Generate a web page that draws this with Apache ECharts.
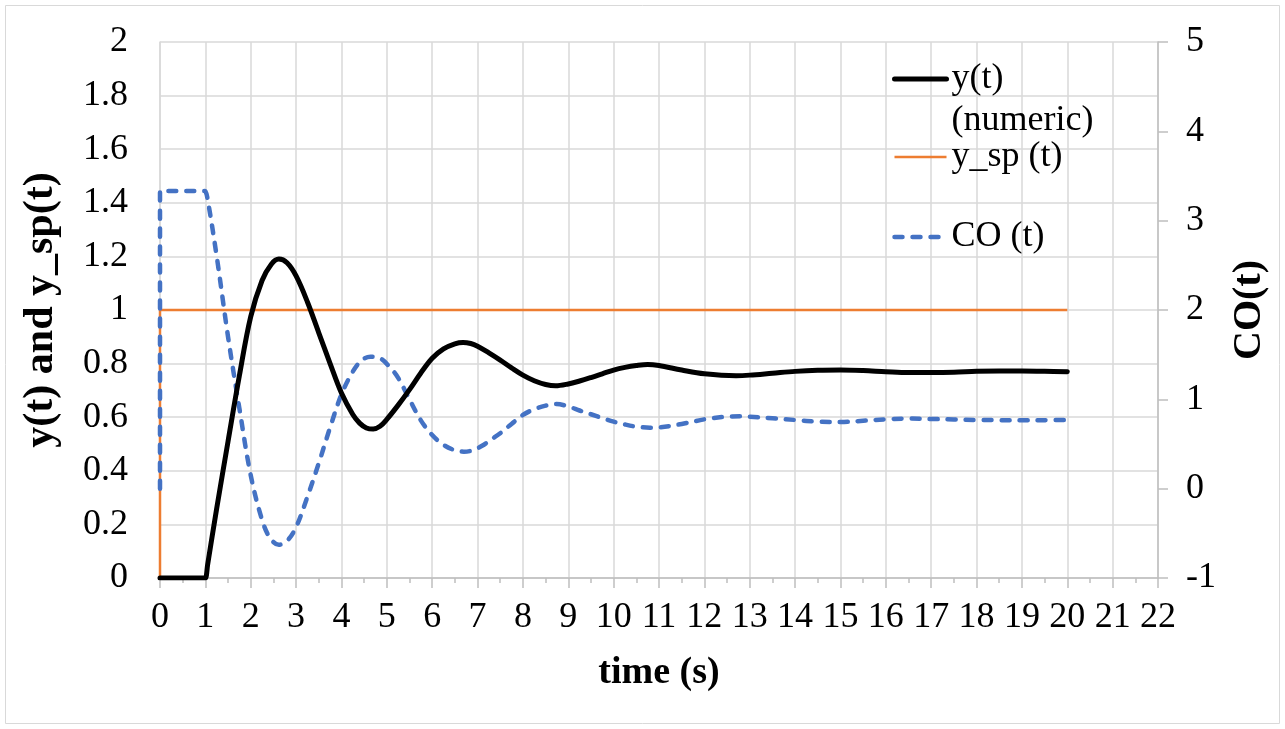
<!DOCTYPE html>
<html>
<head>
<meta charset="utf-8">
<script src="https://cdn.jsdelivr.net/npm/echarts@6/dist/echarts.min.js"></script>
<style>
html,body{margin:0;padding:0;background:#fff;}
#c{width:1285px;height:729px;}
</style>
</head>
<body>
<div id="c"></div>
<script>
// ---- data ----
const yTimes = [0, 0.5, 0.95, 1.0, 1.05, 1.25, 1.5, 1.75, 2.0, 2.25, 2.45, 2.62, 2.8, 3.0, 3.25, 3.5, 3.75, 4.0, 4.25, 4.4, 4.55, 4.7, 4.85, 5.0, 5.25, 5.5, 5.75, 6.0, 6.25, 6.5, 6.68, 6.85, 7.0, 7.25, 7.5, 7.75, 8.0, 8.25, 8.5, 8.72, 9.0, 9.25, 9.5, 9.75, 10.0, 10.25, 10.5, 10.75, 11.0, 11.5, 12.0, 12.7, 13.0, 13.5, 14.0, 14.5, 15.0, 15.5, 16.0, 16.5, 17.0, 17.5, 18.0, 18.5, 19.0, 19.5, 20.0];
const yValues = [0, 0, 0, 0, 0.05, 0.26, 0.51, 0.755, 0.975, 1.11, 1.17, 1.19, 1.176, 1.127, 1.03, 0.915, 0.8, 0.69, 0.61, 0.578, 0.56, 0.556, 0.566, 0.592, 0.645, 0.703, 0.765, 0.82, 0.855, 0.874, 0.879, 0.875, 0.865, 0.84, 0.813, 0.784, 0.757, 0.736, 0.722, 0.717, 0.724, 0.735, 0.748, 0.762, 0.776, 0.786, 0.793, 0.797, 0.793, 0.776, 0.762, 0.755, 0.757, 0.764, 0.771, 0.775, 0.776, 0.774, 0.77, 0.767, 0.767, 0.768, 0.771, 0.772, 0.772, 0.771, 0.77];

const coTimes = [0, 0, 0.25, 0.5, 0.75, 0.97, 1.0, 1.05, 1.25, 1.5, 1.75, 2.0, 2.25, 2.43, 2.62, 2.8, 3.0, 3.25, 3.5, 3.75, 4.0, 4.25, 4.45, 4.64, 4.85, 5.05, 5.25, 5.5, 5.75, 6.0, 6.25, 6.5, 6.7, 6.9, 7.1, 7.3, 7.5, 7.75, 8.0, 8.25, 8.5, 8.74, 9.0, 9.25, 9.5, 9.75, 10.0, 10.25, 10.5, 10.8, 11.0, 11.5, 12.0, 12.5, 12.8, 13.0, 13.5, 14.0, 14.5, 15.0, 15.5, 16.0, 16.5, 17.0, 17.5, 18.0, 18.5, 19.0, 19.5, 20.0];
const coValues = [0, 3.333, 3.333, 3.333, 3.333, 3.333, 3.33, 3.24, 2.6, 1.7, 0.9, 0.15, -0.35, -0.556, -0.628, -0.585, -0.43, -0.09, 0.285, 0.685, 1.055, 1.31, 1.44, 1.477, 1.46, 1.37, 1.24, 1.0, 0.765, 0.6, 0.49, 0.43, 0.414, 0.43, 0.48, 0.55, 0.62, 0.725, 0.825, 0.89, 0.929, 0.948, 0.92, 0.875, 0.833, 0.79, 0.75, 0.718, 0.694, 0.683, 0.686, 0.724, 0.776, 0.806, 0.81, 0.806, 0.787, 0.769, 0.75, 0.746, 0.76, 0.776, 0.785, 0.78, 0.775, 0.769, 0.767, 0.765, 0.767, 0.769];

const spTimes = [0, 0, 20];
const spValues = [0, 1, 1];

const seriesNames = ['y(t)', 'y_sp (t)', 'CO (t)'];
const legendLabels = ['\ny(t)\n(numeric)', 'y_sp (t)', 'CO (t)'];

// ---- build chart ----
const zip = (a, b) => a.map((t, i) => [t, b[i]]);
const FONT = 'Liberation Serif, Times New Roman, serif';
const chart = echarts.init(document.getElementById('c'), null, {renderer: 'canvas'});

chart.setOption({
  animation: false,
  backgroundColor: '#ffffff',
  textStyle: {fontFamily: FONT},
  graphic: [{
    type: 'rect', silent: true, z: -10,
    shape: {x: 5.5, y: 5.5, width: 1274, height: 718},
    style: {fill: 'none', stroke: '#d9d9d9', lineWidth: 1}
  }],
  grid: {left: 160, right: 127, top: 42, bottom: 151, containLabel: false},
  legend: {
    orient: 'vertical',
    left: 892, top: 16,
    padding: 0,
    itemGap: -6,
    itemWidth: 52, itemHeight: 14,
    itemStyle: {opacity: 0},
    textStyle: {fontFamily: FONT, fontSize: 36, color: '#000', lineHeight: 42},
    data: [
      {name: seriesNames[0], lineStyle: {width: 5, color: '#000000', cap: 'round'}},
      {name: seriesNames[1], lineStyle: {width: 2.5, color: '#ED7D31'}},
      {name: seriesNames[2], lineStyle: {width: 4.5, color: '#4472C4', type: [8, 10], cap: 'round'},
       textStyle: {padding: [44, 0, 44, 0]}}
    ],
    formatter: n => legendLabels[seriesNames.indexOf(n)]
  },
  xAxis: {
    type: 'value', min: 0, max: 22, interval: 1,
    name: 'time (s)', nameLocation: 'middle', nameGap: 76,
    nameTextStyle: {fontFamily: FONT, fontSize: 38, fontWeight: 'bold', color: '#000'},
    axisLine: {show: true, onZero: false, lineStyle: {color: '#bfbfbf', width: 1.5}},
    axisTick: {show: true, inside: false, length: 10, lineStyle: {color: '#bfbfbf', width: 1.5}},
    minorTick: {show: true, splitNumber: 2, length: 5, lineStyle: {color: '#bfbfbf', width: 1.5}},
    axisLabel: {fontFamily: FONT, fontSize: 36, color: '#000', margin: 22},
    splitLine: {show: true, lineStyle: {color: '#d9d9d9', width: 1.5}}
  },
  yAxis: [{
    type: 'value', min: 0, max: 2, interval: 0.2, position: 'left',
    name: 'y(t) and y_sp(t)', nameLocation: 'middle', nameGap: 98,
    nameTextStyle: {fontFamily: FONT, fontSize: 42, fontWeight: 'bold', color: '#000'},
    axisLine: {show: true, lineStyle: {color: '#d9d9d9', width: 1.5}},
    axisTick: {show: false},
    axisLabel: {fontFamily: FONT, fontSize: 36, color: '#000', margin: 32},
    splitLine: {show: true, lineStyle: {color: '#d9d9d9', width: 1.5}}
  }, {
    type: 'value', min: -1, max: 5, interval: 1, position: 'right',
    name: 'CO(t)', nameLocation: 'middle', nameGap: 72, nameRotate: 90,
    nameTextStyle: {fontFamily: FONT, fontSize: 40, fontWeight: 'bold', color: '#000'},
    axisLine: {show: true, lineStyle: {color: '#bfbfbf', width: 1.5}},
    axisTick: {show: true, inside: false, length: 10, lineStyle: {color: '#bfbfbf', width: 1.5}},
    axisLabel: {fontFamily: FONT, fontSize: 36, color: '#000', margin: 28},
    splitLine: {show: false}
  }],
  series: [{
    name: seriesNames[0], type: 'line', yAxisIndex: 0,
    data: zip(yTimes, yValues), symbol: 'none', smooth: 0.35, z: 5,
    lineStyle: {color: '#000000', width: 5, cap: 'round', join: 'round'},
    itemStyle: {color: '#000000'}
  }, {
    name: seriesNames[1], type: 'line', yAxisIndex: 0,
    data: zip(spTimes, spValues), symbol: 'none', z: 3,
    lineStyle: {color: '#ED7D31', width: 2.5},
    itemStyle: {color: '#ED7D31'}
  }, {
    name: seriesNames[2], type: 'line', yAxisIndex: 1,
    data: zip(coTimes, coValues), symbol: 'none', smooth: 0.35, z: 4,
    lineStyle: {color: '#4472C4', width: 4.5, type: [8, 10], cap: 'round', join: 'round'},
    itemStyle: {color: '#4472C4'}
  }]
});
</script>
</body>
</html>
